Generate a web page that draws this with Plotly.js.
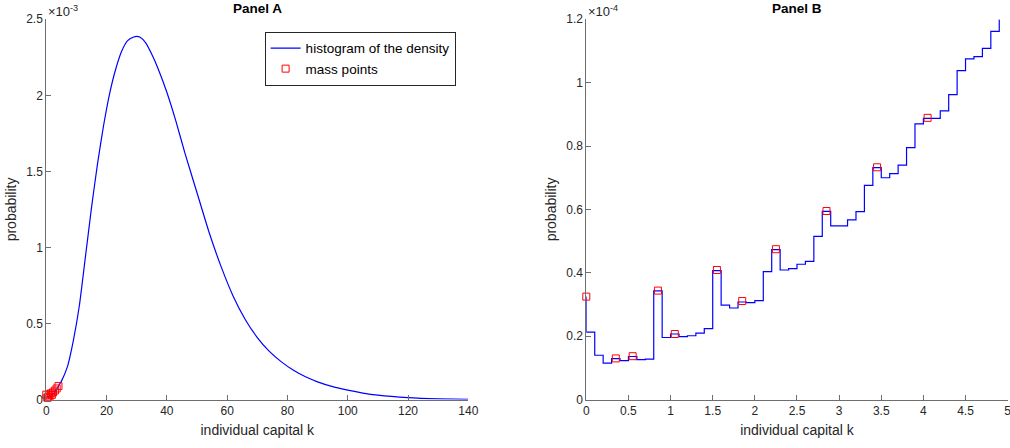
<!DOCTYPE html>
<html>
<head>
<meta charset="utf-8">
<script src="https://cdn.plot.ly/plotly-3.0.1.min.js"></script>
<style>
  html, body { margin: 0; padding: 0; background: #fff; }
  #chart { width: 1010px; height: 448px; }
</style>
</head>
<body>
<div id="chart"></div>
<script>
// ---------- Panel A: density curve (probability in units of 1e-3) ----------
const densityK = [0, 1, 2, 3, 4, 5, 7, 9, 11, 13, 15, 17, 19, 21, 23, 25, 27, 29, 30, 31, 33, 35, 37, 40, 43, 46, 50, 54, 58, 62, 66, 70, 74, 78, 82, 86, 90, 95, 100, 105, 110, 120, 130, 140];
const densityP = [0.021, 0.020, 0.031, 0.055, 0.088, 0.120, 0.215, 0.390, 0.620, 0.940, 1.260, 1.550, 1.800, 2.010, 2.170, 2.290, 2.360, 2.383, 2.388, 2.383, 2.345, 2.270, 2.180, 2.020, 1.830, 1.620, 1.360, 1.100, 0.874, 0.680, 0.527, 0.408, 0.317, 0.248, 0.193, 0.150, 0.117, 0.085, 0.062, 0.043, 0.029, 0.013, 0.005, 0.001];

// ---------- Panel B: histogram staircase (probability in units of 1e-4) ----------
const stairK = [0, 0, 0.1, 0.2, 0.3, 0.4, 0.5, 0.6, 0.7, 0.8, 0.9, 1.0, 1.1, 1.2, 1.3, 1.4, 1.5, 1.6, 1.7, 1.8, 1.9, 2.0, 2.1, 2.2, 2.3, 2.4, 2.5, 2.6, 2.7, 2.8, 2.9, 3.0, 3.1, 3.2, 3.3, 3.4, 3.5, 3.6, 3.7, 3.8, 3.9, 4.0, 4.1, 4.2, 4.3, 4.4, 4.5, 4.6, 4.7, 4.8, 4.9];
const stairP = [0.325, 0.213, 0.140, 0.115, 0.129, 0.123, 0.136, 0.126, 0.128, 0.343, 0.196, 0.207, 0.199, 0.2015, 0.210, 0.224, 0.407, 0.298, 0.289, 0.308, 0.306, 0.312, 0.404, 0.473, 0.409, 0.413, 0.427, 0.436, 0.515, 0.594, 0.548, 0.548, 0.567, 0.593, 0.676, 0.732, 0.700, 0.713, 0.740, 0.795, 0.870, 0.887, 0.887, 0.911, 0.962, 1.038, 1.075, 1.082, 1.108, 1.162, 1.199];

// ---------- Mass points (probability in units of 1e-4) ----------
const massK = [0, 0.35, 0.55, 0.85, 1.05, 1.55, 1.85, 2.25, 2.85, 3.45, 4.05];
const massP = [0.325, 0.130, 0.137, 0.344, 0.207, 0.409, 0.311, 0.4745, 0.595, 0.733, 0.889];

// tick labels
const ticksAx = [0, 20, 40, 60, 80, 100, 120, 140];
const ticksAy = [0, 0.5, 1, 1.5, 2, 2.5];
const ticksBx = [0, 0.5, 1, 1.5, 2, 2.5, 3, 3.5, 4, 4.5, 5];
const ticksBy = [0, 0.2, 0.4, 0.6, 0.8, 1, 1.2];

const FONT = 'Liberation Sans, Arial, Helvetica, sans-serif';
const AXCOL = '#6e6e6e';
const TXT = '#262626';

const traces = [
  { x: densityK, y: densityP, type: 'scatter', mode: 'lines', name: 'histogram of the density',
    line: { color: '#0000ff', width: 1.2, shape: 'spline', smoothing: 0.5 }, xaxis: 'x', yaxis: 'y' },
  { x: massK, y: massP.map(v => v / 10), type: 'scatter', mode: 'markers', name: 'mass points',
    marker: { symbol: 'square-open', color: '#ff0000', size: 7, line: { width: 1, color: '#ff0000' } },
    cliponaxis: false, xaxis: 'x', yaxis: 'y' },
  { x: stairK, y: stairP, type: 'scatter', mode: 'lines', showlegend: false,
    line: { color: '#0000ff', width: 1.2, shape: 'hv' }, xaxis: 'x2', yaxis: 'y2' },
  { x: massK, y: massP, type: 'scatter', mode: 'markers', showlegend: false,
    marker: { symbol: 'square-open', color: '#ff0000', size: 7, line: { width: 1, color: '#ff0000' } },
    cliponaxis: false, xaxis: 'x2', yaxis: 'y2' }
];

function axis(extra) {
  return Object.assign({
    showgrid: false, zeroline: false, showline: true, linecolor: AXCOL, linewidth: 1,
    ticks: 'inside', ticklen: 5, tickcolor: AXCOL, tickwidth: 1,
    tickfont: { family: FONT, size: 12, color: TXT },
    ticklabeloverflow: 'allow',
    mirror: false, fixedrange: true
  }, extra);
}

const titleFont = { family: FONT, size: 14, color: TXT };
const yDom = [0.108, 0.957];
const layout = {
  width: 1010, height: 448,
  margin: { l: 0, r: 0, t: 0, b: 0 },
  paper_bgcolor: '#ffffff', plot_bgcolor: '#ffffff',
  font: { family: FONT, color: TXT },
  showlegend: true,
  legend: {
    x: 0.262, y: 0.929, xanchor: 'left', yanchor: 'top',
    bgcolor: '#ffffff', bordercolor: '#262626', borderwidth: 1,
    font: { family: FONT, size: 13.5, color: '#000' },
    tracegroupgap: 0, itemwidth: 30
  },
  xaxis: axis({ domain: [0.0458, 0.4637], range: [0, 140], tickvals: ticksAx, anchor: 'y',
    title: { text: 'individual capital k', font: titleFont, standoff: 8 } }),
  yaxis: axis({ domain: yDom, range: [0, 2.5], tickvals: ticksAy, anchor: 'x',
    title: { text: 'probability', font: titleFont, standoff: 6 } }),
  xaxis2: axis({ domain: [0.5805, 0.9977], range: [0, 5], tickvals: ticksBx, anchor: 'y2',
    title: { text: 'individual capital k', font: titleFont, standoff: 8 } }),
  yaxis2: axis({ domain: yDom, range: [0, 1.2], tickvals: ticksBy, anchor: 'x2',
    title: { text: 'probability', font: titleFont, standoff: 6 } }),
  annotations: [
    { text: '<b>Panel A</b>', xref: 'paper', yref: 'paper', x: 0.2548, y: 1 - 9 / 448, xanchor: 'center', yanchor: 'middle',
      showarrow: false, font: { family: FONT, size: 13.5, color: '#000' } },
    { text: '<b>Panel B</b>', xref: 'paper', yref: 'paper', x: 0.7891, y: 1 - 9 / 448, xanchor: 'center', yanchor: 'middle',
      showarrow: false, font: { family: FONT, size: 13.5, color: '#000' } },
    { text: '×10<sup>-3</sup>', xref: 'paper', yref: 'paper', x: 46 / 1010, y: 1 - 11 / 448, xanchor: 'left', yanchor: 'middle',
      showarrow: false, font: { family: FONT, size: 13, color: TXT } },
    { text: '×10<sup>-4</sup>', xref: 'paper', yref: 'paper', x: 586 / 1010, y: 1 - 11 / 448, xanchor: 'left', yanchor: 'middle',
      showarrow: false, font: { family: FONT, size: 13, color: TXT } }
  ]
};

Plotly.newPlot('chart', traces, layout, { staticPlot: true, displayModeBar: false });
</script>
</body>
</html>
